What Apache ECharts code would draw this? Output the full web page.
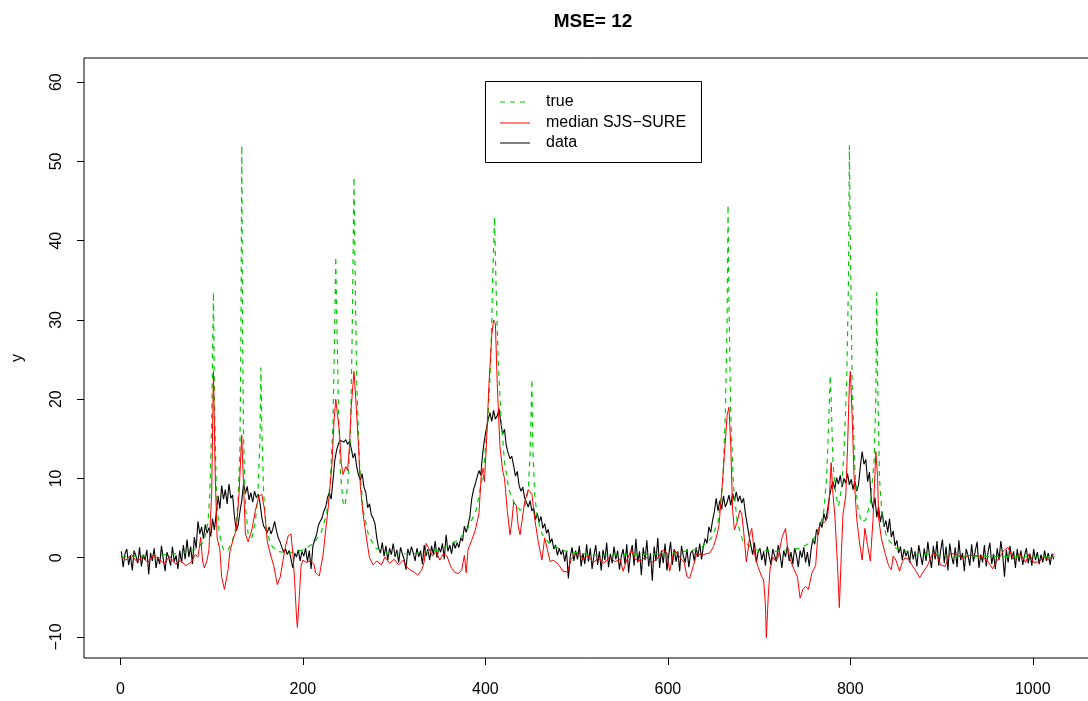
<!DOCTYPE html>
<html>
<head>
<meta charset="utf-8">
<script src="https://cdn.jsdelivr.net/npm/echarts@6.0.0/dist/echarts.min.js"></script>
<style>
  html, body { margin: 0; padding: 0; background: #fff; }
  #main { width: 1088px; height: 701px; }
</style>
</head>
<body>
<div id="main"></div>
<script>
// axis ticks
var xTicks = [0, 200, 400, 600, 800, 1000];
var yTicks = [-10, 0, 10, 20, 30, 40, 50, 60];

// observed data, one value every 2 samples starting at x = 1
var dataStart = 1, dataStep = 2;
var dataY = [
  0.8,-1.2,0.5,1.1,-0.9,0.3,-1.6,0.9,0.2,-0.7,1.3,-1.1,0.4,-0.3,1.0,-2.1,
  0.6,-0.4,1.2,-1.3,0.1,-0.8,1.5,-0.2,-1.7,0.7,0.0,-1.0,1.4,-0.5,0.3,-1.4,
  0.9,-0.6,1.6,-0.2,2.3,0.1,1.4,-0.8,2.6,1.2,4.6,3.0,3.9,2.4,4.2,3.1,
  3.8,2.7,4.9,3.5,5.6,7.8,6.2,9.1,7.4,8.6,6.8,9.3,7.5,7.9,5.2,3.4,
  4.1,5.8,7.2,9.4,8.1,9.0,7.3,8.2,7.0,8.4,7.6,8.0,6.9,5.1,4.0,3.6,
  3.2,3.9,3.0,3.6,4.6,3.4,2.5,2.0,1.3,0.7,1.1,0.4,0.9,-0.2,-1.3,0.6,
  0.1,1.0,-0.4,0.8,0.2,1.2,-0.5,0.9,-1.4,1.5,2.3,2.9,4.1,4.6,5.0,5.9,
  6.4,7.6,8.2,7.4,9.8,12.3,13.6,14.4,14.8,15.0,14.6,14.9,14.3,14.7,13.8,12.6,
  13.2,11.5,10.4,9.8,10.6,8.9,8.2,6.3,6.8,5.4,5.0,4.3,2.5,1.2,0.6,1.9,
  0.2,1.5,-0.3,1.2,0.4,1.8,0.1,1.0,-0.6,1.3,0.5,-0.2,-1.5,1.1,0.3,1.4,
  0.6,-0.4,1.2,0.1,0.9,-0.8,1.6,0.2,1.1,-0.3,1.5,0.4,2.1,0.0,1.3,0.7,
  1.8,-0.2,2.9,0.8,1.6,0.5,2.0,1.2,1.9,1.3,2.5,2.1,4.0,3.2,4.1,5.2,
  7.4,8.6,9.3,10.2,11.0,10.4,13.1,14.9,16.2,17.4,18.3,17.2,18.6,17.5,17.9,18.8,
  17.0,15.6,16.2,14.1,13.2,12.5,12.8,11.6,10.3,10.9,9.1,8.4,8.9,7.6,7.0,6.4,
  7.2,5.9,6.3,4.8,5.6,4.5,5.2,3.7,4.3,3.1,3.6,1.9,2.4,1.1,1.6,0.3,
  1.2,0.4,1.0,-0.5,0.8,-2.6,0.1,1.3,-0.4,0.9,-0.2,1.5,-1.1,0.6,-0.8,1.7,
  -0.5,1.2,-1.4,0.3,1.6,-0.9,0.8,-1.6,1.0,-0.3,1.9,-1.2,0.5,-0.7,1.4,-0.2,
  0.9,-1.5,0.2,1.1,-0.8,1.7,-1.9,0.4,1.6,-1.0,2.4,-0.6,0.8,-2.2,1.3,-0.3,
  2.2,-1.1,0.6,-2.9,1.4,-0.4,2.5,-1.3,0.9,-0.7,1.8,-1.6,0.3,2.0,-0.9,1.1,
  -0.5,0.8,-1.7,1.5,0.2,-0.6,1.1,-1.2,0.6,0.9,-0.4,1.3,0.1,1.8,-0.2,1.5,
  2.4,1.8,3.9,3.2,4.7,5.8,7.5,5.9,7.2,6.1,7.8,6.4,7.0,7.9,6.6,8.1,
  7.2,8.3,7.1,7.8,6.9,7.5,5.6,4.2,2.8,1.6,0.4,1.9,-0.6,0.7,1.2,-0.3,
  0.8,-1.0,1.4,0.2,-0.9,1.1,0.3,-0.5,1.6,0.4,-1.3,0.9,0.1,1.5,-0.4,0.7,
  -0.8,1.2,0.3,-1.2,0.9,0.0,1.3,-0.6,0.7,-1.1,1.0,2.4,1.7,3.6,2.9,4.5,
  3.8,5.6,4.7,6.0,7.6,8.8,9.6,8.7,10.1,9.3,10.4,8.9,10.0,9.4,10.6,9.2,
  9.9,8.6,9.7,8.4,9.2,11.5,13.4,11.8,12.4,9.6,10.8,7.3,6.2,7.6,5.1,6.4,
  4.5,5.8,3.9,4.7,3.2,4.9,2.6,3.4,1.5,2.2,0.6,1.4,-0.3,1.1,0.2,0.9,
  -0.6,1.3,-0.2,0.8,-1.1,1.6,0.3,-0.9,1.2,-0.4,2.0,0.1,-1.3,1.5,-0.2,2.1,
  -1.0,0.9,2.3,-0.7,1.4,-1.6,1.8,0.2,-0.8,1.3,-1.2,2.2,-0.3,0.6,-1.7,1.1,
  0.3,-1.0,1.7,-0.5,0.9,2.0,-1.3,0.4,-0.6,1.6,-1.1,0.7,1.9,-0.8,0.5,-1.4,
  1.2,-0.3,2.1,0.4,-2.4,1.0,-0.6,1.5,-0.2,0.8,-1.3,1.1,-0.5,0.9,-0.9,0.3,
  1.2,-0.7,0.5,-1.0,1.1,-0.3,0.7,-0.8,0.4,-0.6,0.9,-0.4,0.6,-0.9,0.5,-0.2
];

// true signal, [x, y]
var truePts = [
  [1,0.1],[40,0.3],[70,0.6],[85,1.2],[92,2.2],[96,4.5],[98,8],[100,17],[102,33.5],[103,20],
  [105,9],[108,3.5],[111,1.6],[114,0.8],[118,1.0],[122,1.8],[126,3.5],[129,7],[131,14],[132,26],
  [133,52],[134,27],[135,15],[137,6.5],[140,3],[144,2.5],[148,4.5],[151,9],[153,15],[154,24],
  [155,16],[157,8],[160,3.5],[165,1.6],[172,0.8],[185,0.6],[200,1.0],[212,1.8],[220,3.2],[226,5.5],
  [230,9.5],[233,17],[235,30],[236,38],[237,31],[239,19],[241,11],[244,7],[246,6.5],[249,9],
  [252,15],[254,28],[256,48],[257,38],[259,22],[262,12],[266,6],[272,2.8],[280,1.2],[295,0.5],
  [320,0.5],[350,1.0],[370,2.2],[380,3.5],[390,6],[398,11],[403,18],[406,25],[408,35],[410,43],
  [412,33],[414,25],[417,18],[421,12],[426,8.5],[432,6.8],[438,6],[443,6.3],[447,8.5],[449,13],
  [451,22.5],[452,14],[454,8],[457,5],[462,3],[470,1.8],[485,0.9],[520,0.3],[600,0.5],[635,1.1],
  [648,2.5],[655,4.5],[660,9],[663,18],[665,30],[666,44.5],[667,32],[669,18],[672,9],[676,4.5],
  [682,2.2],[695,1.0],[720,0.8],[745,1.2],[758,2],[766,3.5],[771,6],[774,10],[776,16],[778,23],
  [779,20],[781,12],[784,8],[787,6.5],[790,8.5],[793,13],[796,22],[798,35],[799,52],[800,40],
  [802,22],[805,11],[808,6.5],[812,4.5],[817,4.8],[822,7],[826,12],[828,20],[829,33.5],[830,22],
  [832,10],[835,5],[840,2.5],[850,1.2],[870,0.5],[920,0.2],[1024,0.1]
];

// median SJS-SURE estimate, [x, y]
var medianPts = [
  [1,0.2],[6,-0.3],[12,0.4],[18,-0.5],[24,0.1],[30,-0.6],[36,0.3],[42,-0.2],[48,-0.7],[54,0.2],
  [60,-0.8],[66,-0.4],[72,-1.0],[78,-0.5],[82,0.4],[85,0.1],[88,2.6],[90,-0.4],[92,-1.3],[95,-0.3],
  [97,1.0],[100,8],[102,23.5],[104,10],[106,2.5],[109,1.0],[111,-2.5],[114,-4.0],[116,-4.2],[118,-1.5],
  [120,0.8],[124,2.5],[127,3.5],[130,8],[133,15.5],[135,9],[137,3],[140,2],[144,3.5],[148,6],
  [152,7.8],[155,8],[158,6],[161,2],[165,0.2],[168,-1],[172,-3.4],[175,-2.5],[178,-0.5],[181,1.5],
  [184,2.8],[187,3],[189,0.5],[191,-3],[193,-7.5],[194,-8.8],[196,-5],[198,-1],[200,-0.3],[204,-0.6],
  [208,-0.4],[212,-0.8],[214,-1.9],[218,-2.3],[220,-1.0],[222,0.3],[225,3.5],[228,6.6],[232,12],[234,17],
  [236,20],[238,18],[240,16],[242,12],[244,10.5],[247,11.5],[249,11],[251,14],[253,19],[256,23.5],
  [258,20],[261,14],[263,9],[266,5.5],[269,3],[273,0],[277,-0.9],[281,-0.4],[286,-0.9],[290,0.1],
  [295,-0.7],[300,-0.2],[305,-0.9],[310,-0.3],[314,-1.2],[318,-1.6],[322,-1.8],[326,-2.2],[330,-1.6],[333,-0.5],
  [335,1.8],[338,1.2],[342,0.2],[346,0.8],[350,-0.3],[354,0.5],[358,0.2],[362,-1.1],[366,-1.8],[370,-2.0],
  [374,-1.6],[377,0.3],[379,-1.9],[381,1.0],[385,2.2],[389,3.5],[393,5.6],[396,11.4],[399,9.6],[401,14],
  [404,22],[407,28],[409,30],[411,29.5],[413,22],[416,14],[419,11],[421,10],[424,6],[427,2.9],
  [429,4.5],[431,7],[434,6.6],[436,4],[438,2.9],[440,4.5],[443,7],[447,8.6],[451,8],[454,5],
  [458,2],[462,-0.3],[465,2.5],[468,1],[471,-0.5],[474,-0.3],[478,-0.6],[481,-1],[485,-1.7],[490,-1.8],
  [494,-0.2],[498,0.4],[503,0.6],[507,-0.2],[512,0.3],[518,-0.6],[524,-0.1],[530,-0.7],[536,0.1],[542,-0.5],
  [548,-0.2],[551,-1.7],[555,-0.3],[560,1],[564,-0.2],[570,-0.4],[576,0.1],[582,-0.6],[588,-0.2],[595,1],
  [599,0.6],[602,-1.7],[607,1],[611,0.4],[615,-0.2],[618,-0.6],[621,-2.4],[624,-2.6],[628,-1.0],[632,0.6],
  [637,0.3],[642,0.5],[646,0.6],[650,1.4],[653,2.5],[656,4],[659,8.2],[662,13],[665,18],[667,19],
  [669,14],[671,6],[673,3.5],[676,4.5],[679,6],[681,5.5],[683,3.5],[686,-0.5],[688,1],[690,3.0],
  [692,3.7],[695,0.5],[699,-1.2],[703,-2.4],[705,-2.8],[707,-6],[708,-10.1],[710,-5],[712,-1.5],[715,0.1],
  [718,-0.4],[721,0.1],[725,2.5],[729,3.7],[731,1.5],[734,-0.2],[738,-1.4],[742,-2.4],[745,-5.1],[748,-4],
  [751,-3.6],[754,-4],[758,-1.9],[762,-1],[765,3.7],[768,4.2],[772,4.5],[775,5],[777,7.5],[779,12],
  [781,8],[783,5.5],[786,-1],[788,-6.3],[790,0],[792,5.5],[795,7.8],[797,14],[799,22],[800,23.5],
  [802,18],[804,10.5],[807,5],[810,2],[813,-0.3],[816,3.7],[819,1.5],[822,-0.4],[825,5],[828,13.4],
  [830,10],[831,5],[834,2.5],[838,0.6],[842,-1],[845,-1.5],[847,0.2],[850,-0.3],[854,-1.7],[857,-0.5],
  [860,0],[864,-0.2],[867,-0.8],[872,-1.7],[876,-2.5],[880,-1.8],[885,-0.9],[890,0.5],[895,0.3],[899,-0.9],
  [904,-1.1],[909,0.5],[916,0.5],[923,-0.1],[931,0.3],[937,0.3],[945,0.1],[951,-0.5],[956,-1.4],[960,-0.5],
  [964,0.1],[968,0.9],[973,1.3],[976,0.5],[980,-0.3],[986,0.5],[992,-0.6],[996,0.5],[1001,-0.6],[1007,-0.5],
  [1012,0.1],[1017,-0.3],[1021,0.2],[1024,0.5]
];

var dataPts = dataY.map(function (v, i) { return [dataStart + dataStep * i, v]; });

var font = '"Liberation Sans", Arial, Helvetica, sans-serif';
var green = '#00CD00';

// R style tick labels: no thousands separator, true minus sign
function rLabel(v) {
  return String(v).replace('-', '\u2212');
}

var chart = echarts.init(document.getElementById('main'), null, { renderer: 'canvas' });

var option = {
  animation: false,
  backgroundColor: '#fff',
  title: {
    text: 'MSE= 12',
    left: 588,
    top: 7,
    textAlign: 'center',
    textStyle: { fontFamily: font, fontSize: 19, fontWeight: 'bold', color: '#000' }
  },
  grid: {
    show: true,
    left: 84, top: 58, width: 1008, height: 600,
    outerBoundsMode: 'none',
    containLabel: false,
    borderColor: '#000', borderWidth: 1,
    backgroundColor: 'transparent'
  },
  xAxis: {
    type: 'value',
    min: -39.92, max: 1064.92,
    axisLine: { show: false, onZero: false },
    splitLine: { show: false },
    axisTick: { show: true, length: 7, inside: false, customValues: xTicks, lineStyle: { color: '#000' } },
    axisLabel: { customValues: xTicks, formatter: rLabel, margin: 24, color: '#000', fontFamily: font, fontSize: 16 }
  },
  yAxis: {
    type: 'value',
    min: -12.65, max: 63.05,
    name: 'y',
    nameLocation: 'middle',
    nameGap: 58,
    nameRotate: 90,
    nameTextStyle: { fontFamily: font, fontSize: 16, color: '#000' },
    axisLine: { show: false, onZero: false },
    splitLine: { show: false },
    axisTick: { show: true, length: 7, inside: false, customValues: yTicks, lineStyle: { color: '#000' } },
    axisLabel: { customValues: yTicks, formatter: rLabel, rotate: 90, margin: 19, color: '#000', fontFamily: font, fontSize: 16 }
  },
  series: [
    {
      name: 'data', type: 'line', data: dataPts,
      symbol: 'none', showSymbol: false,
      lineStyle: { color: '#000', width: 1.1 }, z: 2
    },
    {
      name: 'true', type: 'line', data: truePts,
      symbol: 'none', showSymbol: false,
      lineStyle: { color: green, width: 1.2, type: [5, 5] }, z: 3
    },
    {
      name: 'median SJS\u2212SURE', type: 'line', data: medianPts,
      symbol: 'none', showSymbol: false,
      lineStyle: { color: '#FF0000', width: 1 }, z: 4
    }
  ],
  // legend box drawn as in the R plot
  graphic: [
    { type: 'rect', z: 100, shape: { x: 485.5, y: 81.5, width: 216, height: 81 },
      style: { fill: '#fff', stroke: '#000', lineWidth: 1 } },
    { type: 'line', z: 101, shape: { x1: 500, y1: 102, x2: 530, y2: 102 },
      style: { stroke: green, lineWidth: 1.2, lineDash: [5, 5] } },
    { type: 'line', z: 101, shape: { x1: 500, y1: 123, x2: 530, y2: 123 },
      style: { stroke: '#FF0000', lineWidth: 1 } },
    { type: 'line', z: 101, shape: { x1: 500, y1: 143, x2: 530, y2: 143 },
      style: { stroke: '#000', lineWidth: 1 } },
    { type: 'text', z: 101, x: 546, y: 102,
      style: { text: 'true', font: '16px ' + font, fill: '#000', verticalAlign: 'middle' } },
    { type: 'text', z: 101, x: 546, y: 123,
      style: { text: 'median SJS\u2212SURE', font: '16px ' + font, fill: '#000', verticalAlign: 'middle' } },
    { type: 'text', z: 101, x: 546, y: 143,
      style: { text: 'data', font: '16px ' + font, fill: '#000', verticalAlign: 'middle' } }
  ]
};

chart.setOption(option);
</script>
</body>
</html>
